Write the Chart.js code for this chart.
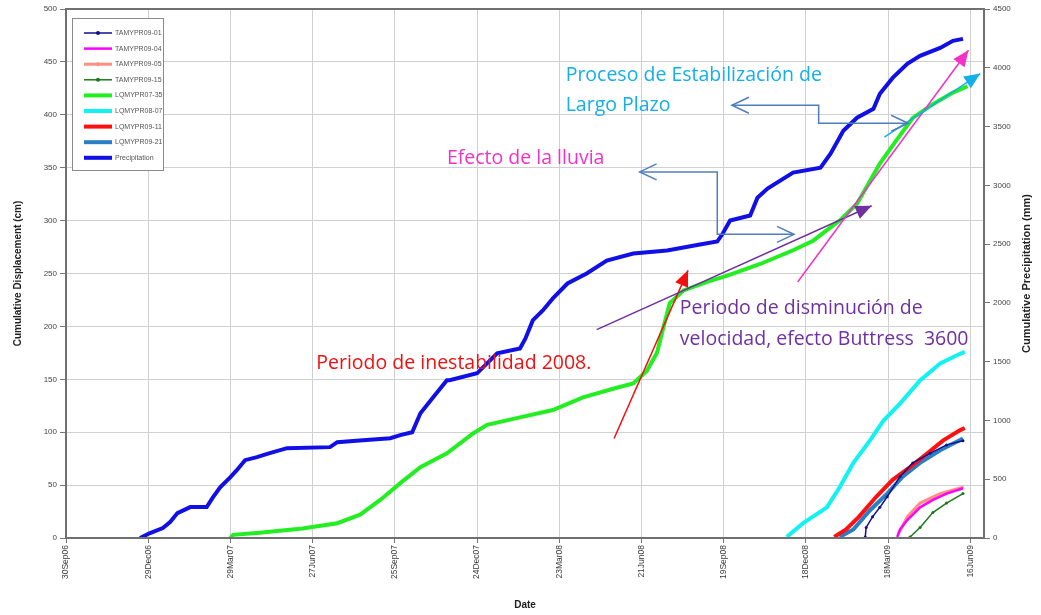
<!DOCTYPE html>
<html>
<head>
<meta charset="utf-8">
<script src="https://cdn.jsdelivr.net/npm/chart.js@4.4.0/dist/chart.umd.min.js"></script>
<style>
  body { margin: 0; background: #fff; }
</style>
</head>
<body>
<canvas id="chart" width="1041" height="615"></canvas>
<script>
// x values are days counted from 30Sep06
const tickDays = [0, 90, 180, 270, 360, 450, 540, 630, 720, 810, 900, 990];
const tickLabels = ['30Sep06', '29Dec06', '29Mar07', '27Jun07', '25Sep07', '24Dec07',
    '23Mar08', '21Jun08', '19Sep08', '18Dec08', '18Mar09', '16Jun09'];

const precipDays = [81, 92, 106, 114, 122, 136, 154, 161, 169, 180, 187, 196, 209, 223, 242, 289, 297, 325, 355, 366,
    379, 388, 402, 417, 420, 450, 472, 497, 503, 511, 522, 533, 549, 570, 592, 621, 658, 694, 713, 719,
    727, 749, 757, 768, 796, 826, 837, 851, 866, 884, 891, 905, 921, 935, 957, 971, 982];
const precipMm = [0, 42, 85, 136, 212, 263, 263, 348, 433, 518, 577, 662, 688, 722, 764, 773, 815, 832, 849, 875,
    900, 1061, 1197, 1342, 1342, 1401, 1571, 1613, 1698, 1851, 1936, 2038, 2165, 2250, 2360, 2420, 2445, 2496, 2522, 2590,
    2700, 2743, 2895, 2972, 3108, 3150, 3269, 3464, 3575, 3651, 3779, 3914, 4033, 4101, 4169, 4229, 4246];

const lq0735Days = [180, 183, 212, 259, 297, 322, 344, 369, 388, 417, 446, 461, 497, 533, 566, 603, 621, 636, 647, 654,
    661, 676, 702, 724, 760, 796, 818, 833, 847, 866, 891, 910, 927, 949, 971, 987];
const lq0735Cm = [0, 3, 5, 9, 14, 22, 36, 54, 67, 80, 99, 107, 114, 121, 133, 142, 146, 158, 175, 199,
    222, 234, 242, 248, 259, 272, 281, 291, 300, 316, 354, 377, 397, 410, 421, 427];

const lq0807Days = [789, 807, 833, 847, 862, 880, 895, 913, 935, 957, 976, 984];
const lq0807Cm = [1, 14, 29, 48, 71, 92, 111, 127, 149, 165, 173, 176];

const lq0911Days = [841, 854, 868, 887, 905, 924, 943, 960, 979, 984];
const lq0911Cm = [1, 8, 20, 39, 55, 67, 80, 92, 102, 104];

const lq0921Days = [847, 862, 880, 899, 916, 935, 957, 982];
const lq0921Cm = [1, 8, 26, 42, 58, 71, 83, 94];

const ta0901Days = [875, 876, 883, 891, 899, 913, 927, 946, 964, 982];
const ta0901Cm = [1, 10, 20, 29, 39, 58, 71, 80, 88, 92];

const ta0904Days = [910, 913, 921, 935, 949, 964, 982];
const ta0904Cm = [1, 8, 17, 29, 36, 42, 47];

const ta0905Days = [912, 921, 935, 957, 982];
const ta0905Cm = [5, 20, 33, 42, 48];

const ta0915Days = [924, 935, 949, 964, 982];
const ta0915Cm = [1, 10, 24, 33, 42];

// annotation texts / arrows, placed in data units (day, cm)
const notes = [
    { text: 'Proceso de Estabilización de', day: 547, cm: 437, color: '#14aee8' },
    { text: 'Largo Plazo', day: 547, cm: 409, color: '#14aee8' },
    { text: 'Efecto de la lluvia', day: 417, cm: 359, color: '#f032c8' },
    { text: 'Periodo de inestabilidad 2008.', day: 274, cm: 165, color: '#f01010' },
    { text: 'Periodo de disminución de', day: 672, cm: 217, color: '#7030a0' },
    { text: 'velocidad, efecto Buttress  3600', day: 672, cm: 188, color: '#7030a0' }
];
const arrows = [
    { pts: [[600, 94], [681, 253]], color: '#f01010', width: 1.5, head: 'end' },
    { pts: [[581, 197], [882, 314]], color: '#7030a0', width: 1.5, head: 'end' },
    { pts: [[801, 242], [988, 461]], color: '#f032c8', width: 1.5, head: 'end' },
    { pts: [[896, 379], [1001, 439]], color: '#14aee8', width: 1.5, head: 'end' },
    { pts: [[628, 346], [713, 346], [713, 287], [797, 287]], color: '#4f7fbd', width: 1.5, head: 'open' },
    { pts: [[729, 409], [824, 409], [824, 392], [922, 392]], color: '#4f7fbd', width: 1.5, head: 'open' }
];

function zip(xs, ys) {
    return xs.map((x, i) => ({ x: x, y: ys[i] }));
}

const seriesList = [
    { label: 'TAMYPR09-01', data: zip(ta0901Days, ta0901Cm), color: '#101090', width: 1.5, point: 1.5 },
    { label: 'TAMYPR09-04', data: zip(ta0904Days, ta0904Cm), color: '#ff00ff', width: 2.5, point: 0 },
    { label: 'TAMYPR09-05', data: zip(ta0905Days, ta0905Cm), color: '#ff8f80', width: 3, point: 1 },
    { label: 'TAMYPR09-15', data: zip(ta0915Days, ta0915Cm), color: '#1a7a1a', width: 1.5, point: 1.5 },
    { label: 'LQMYPR07-35', data: zip(lq0735Days, lq0735Cm), color: '#22ee22', width: 4, point: 0 },
    { label: 'LQMYPR08-07', data: zip(lq0807Days, lq0807Cm), color: '#11f2f2', width: 4, point: 0 },
    { label: 'LQMYPR09-11', data: zip(lq0911Days, lq0911Cm), color: '#ff1010', width: 4, point: 0 },
    { label: 'LQMYPR09-21', data: zip(lq0921Days, lq0921Cm), color: '#2a7fc4', width: 4, point: 0 },
    { label: 'Precipitation', data: zip(precipDays, precipMm), color: '#1010e6', width: 4, point: 0, axis: 'y2' }
];

const FONT = "'Liberation Sans', Arial, sans-serif";

const extras = {
    id: 'extras',
    afterDatasetsDraw(chart) {
        const ctx = chart.ctx;
        const a = chart.chartArea;
        const sx = chart.scales.x, sy = chart.scales.y;
        const px = (d, v) => [sx.getPixelForValue(d), sy.getPixelForValue(v)];
        ctx.save();

        // frame
        ctx.strokeStyle = '#707070';
        ctx.lineWidth = 2;
        ctx.strokeRect(a.left, a.top, a.right - a.left, a.bottom - a.top);

        // legend box
        const lx = a.left + 6, ly = a.top + 9;
        ctx.fillStyle = '#fff';
        ctx.fillRect(lx, ly, 91, 152);
        ctx.strokeStyle = '#8a8a8a';
        ctx.lineWidth = 1;
        ctx.strokeRect(lx + 0.5, ly + 0.5, 91, 152);
        ctx.font = '7px ' + FONT;
        ctx.textBaseline = 'middle';
        chart.data.datasets.forEach((ds, i) => {
            const y = ly + 15 + i * 15.6;
            ctx.strokeStyle = ds.borderColor;
            ctx.lineWidth = ds.borderWidth;
            ctx.beginPath();
            ctx.moveTo(lx + 12, y);
            ctx.lineTo(lx + 40, y);
            ctx.stroke();
            if (ds.pointRadius > 0) {
                ctx.fillStyle = ds.borderColor;
                ctx.beginPath();
                ctx.arc(lx + 26, y, 2, 0, Math.PI * 2);
                ctx.fill();
            }
            ctx.fillStyle = '#555';
            ctx.textAlign = 'left';
            ctx.fillText(ds.label, lx + 43, y);
        });

        // arrows
        arrows.forEach(ar => {
            const p = ar.pts.map(q => px(q[0], q[1]));
            ctx.strokeStyle = ar.color;
            ctx.fillStyle = ar.color;
            ctx.lineWidth = ar.width;
            ctx.beginPath();
            ctx.moveTo(p[0][0], p[0][1]);
            for (let i = 1; i < p.length; i++) ctx.lineTo(p[i][0], p[i][1]);
            ctx.stroke();
            const n = p.length;
            const drawHead = (tip, from, filled) => {
                const ang = Math.atan2(tip[1] - from[1], tip[0] - from[0]);
                const len = filled ? 16 : 17, half = filled ? 7 : 8;
                const bx = tip[0] - Math.cos(ang) * len, by = tip[1] - Math.sin(ang) * len;
                const ox = -Math.sin(ang) * half, oy = Math.cos(ang) * half;
                ctx.beginPath();
                ctx.moveTo(bx + ox, by + oy);
                ctx.lineTo(tip[0], tip[1]);
                ctx.lineTo(bx - ox, by - oy);
                if (filled) { ctx.closePath(); ctx.fill(); } else ctx.stroke();
            };
            if (ar.head === 'end') {
                drawHead(p[n - 1], p[n - 2], true);
            } else {
                drawHead(p[0], p[1], false);
                drawHead(p[n - 1], p[n - 2], false);
            }
        });

        // notes
        ctx.font = "19.5px 'Open Sans', Lato, sans-serif";
        ctx.textAlign = 'left';
        ctx.textBaseline = 'middle';
        notes.forEach(nt => {
            const p = px(nt.day, nt.cm);
            ctx.fillStyle = nt.color;
            ctx.fillText(nt.text, p[0], p[1]);
        });

        // right axis title, reading upwards
        ctx.save();
        ctx.translate(1027, (a.top + a.bottom) / 2);
        ctx.rotate(-Math.PI / 2);
        ctx.font = 'bold 11px ' + FONT;
        ctx.fillStyle = '#222';
        ctx.textAlign = 'center';
        ctx.fillText('Cumulative Precipitation (mm)', 0, 0);
        ctx.restore();

        ctx.restore();
    }
};

const tickFont = { family: FONT, size: 8 };

new Chart(document.getElementById('chart').getContext('2d'), {
    type: 'line',
    data: {
        datasets: seriesList.map(s => ({
            label: s.label,
            data: s.data,
            borderColor: s.color,
            backgroundColor: s.color,
            borderWidth: s.width,
            pointRadius: s.point,
            pointBorderWidth: 0,
            pointBackgroundColor: s.color,
            tension: 0,
            fill: false,
            yAxisID: s.axis || 'y'
        }))
    },
    options: {
        responsive: false,
        animation: false,
        layout: { padding: { top: 9, left: 0, right: 0, bottom: 0 } },
        plugins: { legend: { display: false }, tooltip: { enabled: false } },
        scales: {
            x: {
                type: 'linear',
                min: 0,
                max: 1005,
                afterBuildTicks: s => { s.ticks = tickDays.map(v => ({ value: v })); },
                afterFit: s => { s.height = 77; },
                ticks: {
                    autoSkip: false,
                    minRotation: 90,
                    maxRotation: 90,
                    padding: 2,
                    font: { family: FONT, size: 8.5 },
                    color: '#3a3a3a',
                    callback: v => tickLabels[tickDays.indexOf(v)]
                },
                grid: { color: '#d0d0d0', tickLength: 5, tickColor: '#777' },
                border: { color: '#6e6e6e', width: 2 },
                title: {
                    display: true, text: 'Date', color: '#222',
                    font: { family: FONT, size: 10, weight: 'bold' },
                    padding: { top: 0, bottom: 4 }
                }
            },
            y: {
                position: 'left',
                min: 0,
                max: 500,
                afterBuildTicks: s => {
                    const t = [];
                    for (let v = 0; v <= 500; v += 50) t.push({ value: v });
                    s.ticks = t;
                },
                afterFit: s => { s.width = 66; },
                ticks: { padding: 3, font: tickFont, color: '#444', callback: v => String(v) },
                grid: { color: '#d0d0d0', tickLength: 6, tickColor: '#777' },
                border: { color: '#6e6e6e', width: 2 },
                title: {
                    display: true, text: 'Cumulative Displacement (cm)', color: '#222',
                    font: { family: FONT, size: 10, weight: 'bold' },
                    padding: { top: 12, bottom: 0 }
                }
            },
            y2: {
                position: 'right',
                min: 0,
                max: 4500,
                afterBuildTicks: s => {
                    const t = [];
                    for (let v = 0; v <= 4500; v += 500) t.push({ value: v });
                    s.ticks = t;
                },
                afterFit: s => { s.width = 57; },
                ticks: { padding: 3, font: tickFont, color: '#444', callback: v => String(v) },
                grid: { drawOnChartArea: false, tickLength: 6, tickColor: '#777' },
                border: { color: '#6e6e6e', width: 2 }
            }
        }
    },
    plugins: [extras]
});
</script>
</body>
</html>
